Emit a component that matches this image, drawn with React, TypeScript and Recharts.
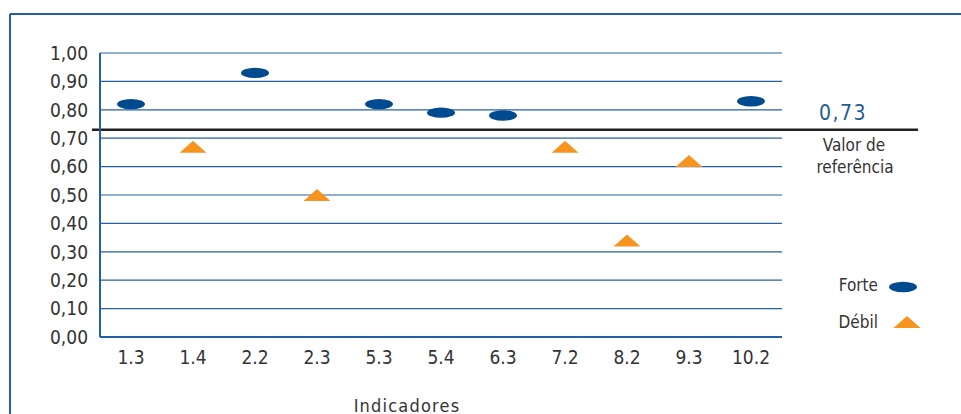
import { ComposedChart, Line, XAxis, YAxis, CartesianGrid, ReferenceLine, Legend } from 'recharts';

const indicadores = ['1.3', '1.4', '2.2', '2.3', '5.3', '5.4', '6.3', '7.2', '8.2', '9.3', '10.2'];
const forte = [0.82, null, 0.93, null, 0.82, 0.79, 0.78, null, null, null, 0.83];
const debil = [null, 0.67, null, 0.5, null, null, null, 0.67, 0.34, 0.62, null];
const yTicks = [0, 0.1, 0.2, 0.3, 0.4, 0.5, 0.6, 0.7, 0.8, 0.9, 1.0];
const valorReferencia = 0.73;

const data = indicadores.map((name, i) => ({ name, forte: forte[i], debil: debil[i] }));

const FONT = "'DejaVu Sans Condensed', 'Liberation Sans Narrow', 'Liberation Sans', sans-serif";
const BLUE = '#2460a4';
const NAVY = '#004a8f';
const ORANGE = '#f7941d';
const TEXT = '#333333';

const fmt = (v: number) => v.toFixed(2).replace('.', ',');

function Ellipse(props: any) {
  const { cx, cy, value } = props;
  if (value == null || cy == null) return <g />;
  return <ellipse cx={cx} cy={cy} rx={14} ry={5.2} fill={NAVY} />;
}

function Triangle(props: any) {
  const { cx, cy, value } = props;
  if (value == null || cy == null) return <g />;
  return (
    <polygon
      points={`${cx - 13.5},${cy + 6} ${cx},${cy - 6} ${cx + 13.5},${cy + 6}`}
      fill={ORANGE}
    />
  );
}

// reference line drawn wider than the plot, with its label on the right
function RefShape(props: any) {
  const { x1, x2, y1 } = props;
  return (
    <g>
      <line x1={x1 - 8} x2={x2 + 136} y1={y1} y2={y1} stroke="#231f20" strokeWidth={2.4} />
      <text x={x2 + 61} y={y1 - 17} textAnchor="middle" dominantBaseline="central" fill="#1f5c99" fontSize={21} letterSpacing={1.5} fontFamily={FONT}>
        {fmt(valorReferencia)}
      </text>
      <text x={x2 + 72} y={y1 + 15} textAnchor="middle" dominantBaseline="central" fill={TEXT} fontSize={17} fontFamily={FONT}>
        Valor de
      </text>
      <text x={x2 + 73} y={y1 + 37} textAnchor="middle" dominantBaseline="central" fill={TEXT} fontSize={17} fontFamily={FONT}>
        referência
      </text>
      {/* outer frame: only its top and left edges are in the picture */}
      <line x1={10} x2={961} y1={14} y2={14} stroke={BLUE} strokeWidth={2} />
      <line x1={10} x2={10} y1={14} y2={414} stroke={BLUE} strokeWidth={2} />
    </g>
  );
}

function AxisTitle(props: any) {
  const { viewBox } = props;
  const cx = viewBox.x + viewBox.width / 2 - 34;
  return (
    <text x={cx} y={405} textAnchor="middle" dominantBaseline="central" fill={TEXT} fontSize={18} letterSpacing={1.2} fontFamily={FONT}>
      Indicadores
    </text>
  );
}

function LegendBox(props: any) {
  const payload = [...(props.payload || [])].sort((a: any, b: any) => (a.dataKey === 'forte' ? -1 : b.dataKey === 'forte' ? 1 : 0));
  return (
    <svg width={100} height={60} style={{ display: 'block' }}>
      {payload.map((entry: any, i: number) => {
        const y = 10 + i * 37;
        return (
          <g key={entry.value}>
            <text x={48} y={y} textAnchor="end" dominantBaseline="central" fill={TEXT} fontSize={17} fontFamily={FONT}>
              {entry.value}
            </text>
            {entry.dataKey === 'forte' ? (
              <ellipse cx={73} cy={y + 2} rx={14} ry={5.2} fill={NAVY} />
            ) : (
              <polygon points={`${63.5},${y + 6} ${77},${y - 6} ${90.5},${y + 6}`} fill={ORANGE} />
            )}
          </g>
        );
      })}
    </svg>
  );
}

export default function App() {
  return (
    <div style={{ position: 'fixed', left: 0, top: 0, width: 961, height: 414, background: '#fff', fontFamily: FONT }}>
      <ComposedChart width={961} height={414} data={data} margin={{ top: 53, right: 179, bottom: 47, left: 0 }}>
        <CartesianGrid horizontal vertical={false} stroke={BLUE} strokeWidth={1.2} />
        <XAxis
          dataKey="name"
          scale="band"
          axisLine={{ stroke: BLUE, strokeWidth: 2 }}
          tickLine={false}
          height={30}
          interval={0}
          tick={{ fill: TEXT, fontSize: 19, fontFamily: FONT }}
          dy={6}
          label={AxisTitle}
        />
        <YAxis
          width={100}
          domain={[0, 1]}
          ticks={yTicks}
          interval={0}
          axisLine={{ stroke: BLUE, strokeWidth: 2 }}
          tickLine={false}
          tickMargin={6}
          tickFormatter={fmt}
          tick={{ fill: TEXT, fontSize: 19, fontFamily: FONT }}
        />
        <ReferenceLine y={valorReferencia} shape={RefShape} ifOverflow="visible" />
        <Line dataKey="forte" name="Forte" stroke="none" dot={Ellipse} activeDot={false} legendType="circle" isAnimationActive={false} />
        <Line dataKey="debil" name="Débil" stroke="none" dot={Triangle} activeDot={false} legendType="triangle" isAnimationActive={false} />
        <Legend
          layout="horizontal"
          verticalAlign="middle"
          align="center"
          content={LegendBox}
          wrapperStyle={{ position: 'absolute', left: 830, top: 275, width: 100, height: 60 }}
        />
      </ComposedChart>
    </div>
  );
}
